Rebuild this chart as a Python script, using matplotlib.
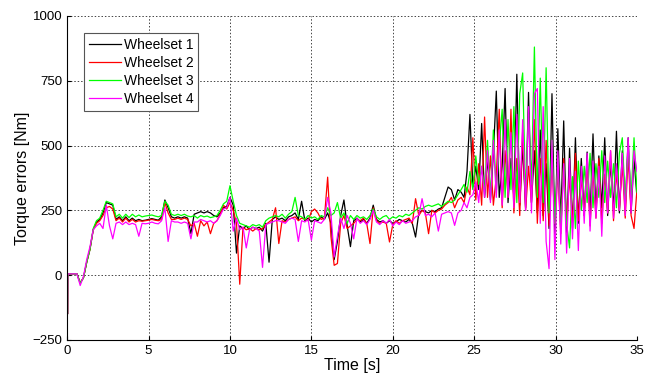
import numpy as np
import matplotlib
matplotlib.use('Agg')
import matplotlib.pyplot as plt

#Time base: start transient, 0.2 s steps to 24 s, then 0.18 s steps to 35 s
timeStart = [0.0, 0.02, 0.04]
timeSlow = np.round(np.arange(0.2, 24.01, 0.2), 2)
timeFast = np.round(np.arange(24.2, 35.001, 0.18), 2)
time_s = np.concatenate([timeStart, timeSlow, timeFast])

#Wheelset 1 (black)
wheelset1 = [170, -150, 5,
    5, 5, 5, -30, -10, 50, 100, 175, 205, 215,
    240, 280, 275, 270, 215, 225, 210, 225, 210, 220,
    210, 215, 210, 212, 215, 218, 215, 212, 225, 290,
    260, 225, 220, 225, 220, 225, 220, 160, 235, 240,
    245, 240, 245, 240, 230, 225, 240, 260, 265, 300,
    270, 85, 190, 180, 190, 175, 185, 180, 185, 170,
    200, 50, 215, 225, 215, 220, 210, 225, 230, 240,
    215, 285, 210, 220, 205, 215, 210, 225, 215, 240,
    200, 60, 130, 230, 290, 190, 110, 210, 220, 205,
    215, 200, 220, 270, 215, 205, 210, 200, 210, 200,
    205, 215, 210, 205, 215, 200, 147, 240, 250, 245,
    240, 250, 245, 255, 260, 300, 340, 330, 290, 330,
    320, 300, 400, 620, 340, 420, 330, 585, 300, 450,
    290, 470, 710, 300, 420, 720, 280, 450, 300, 775,
    270, 500, 260, 705, 280, 480, 240, 560, 230, 430,
    180, 700, 150, 565, 200, 595, 150, 490, 180, 530,
    200, 450, 230, 475, 220, 545, 240, 460, 260, 530,
    230, 440, 250, 555, 240, 480, 260, 530, 240, 450,
    300]

#Wheelset 2 (red)
wheelset2 = [170, -150, 5,
    5, 5, 5, -30, -10, 50, 100, 175, 200, 210,
    230, 260, 265, 255, 210, 220, 205, 220, 205, 215,
    205, 210, 208, 210, 212, 215, 212, 210, 215, 280,
    240, 215, 215, 220, 215, 220, 215, 190, 200, 150,
    210, 190, 205, 160, 200, 210, 235, 270, 255, 280,
    250, 200, -35, 185, 175, 180, 170, 180, 175, 180,
    195, 205, 215, 260, 122, 210, 205, 215, 220, 225,
    210, 220, 215, 210, 245, 255, 240, 215, 220, 378,
    150, 38, 45, 200, 230, 180, 190, 200, 215, 210,
    220, 200, 122, 260, 210, 200, 205, 200, 128, 195,
    210, 200, 210, 215, 220, 200, 295, 230, 250, 240,
    160, 250, 240, 250, 255, 270, 280, 300, 260, 290,
    300, 280, 340, 310, 530, 290, 430, 270, 610, 300,
    460, 270, 380, 640, 260, 480, 300, 640, 240, 450,
    230, 560, 250, 420, 280, 600, 200, 450, 210, 520,
    190, 430, 200, 400, 160, 450, 190, 380, 200, 470,
    210, 380, 230, 440, 190, 400, 220, 450, 200, 390,
    240, 480, 210, 400, 250, 430, 220, 460, 230, 180,
    330]

#Wheelset 3 (green)
wheelset3 = [170, -150, 5,
    5, 5, 5, -30, -10, 50, 100, 180, 210, 220,
    250, 285, 280, 275, 225, 235, 220, 235, 222, 235,
    225, 232, 225, 228, 230, 232, 228, 225, 230, 285,
    270, 235, 230, 235, 230, 235, 228, 225, 230, 220,
    230, 225, 228, 222, 225, 230, 250, 275, 285, 345,
    285, 230, 200, 195, 190, 185, 195, 190, 195, 185,
    210, 220, 225, 230, 225, 235, 220, 235, 245, 300,
    230, 225, 215, 230, 220, 225, 215, 230, 225, 260,
    230, 240, 280, 220, 240, 200, 230, 215, 230, 220,
    225, 215, 230, 255, 225, 215, 225, 230, 215, 225,
    220, 230, 225, 235, 230, 240, 250, 260, 255, 265,
    270, 265, 270, 275, 265, 275, 285, 280, 290, 310,
    330, 350, 320, 400, 330, 460, 350, 420, 320, 520,
    300, 560, 320, 500, 640, 300, 600, 330, 650, 280,
    700, 780, 300, 620, 350, 880, 300, 760, 280, 800,
    240, 520, 200, 450, 180, 420, 200, 105, 380, 180,
    440, 250, 420, 280, 470, 260, 430, 300, 480, 280,
    440, 300, 430, 260, 470, 530, 280, 500, 300, 530,
    320]

#Wheelset 4 (magenta)
wheelset4 = [170, -150, 5,
    5, 5, 5, -40, -5, 60, 110, 175, 190, 200,
    180, 270, 190, 140, 200, 205, 195, 205, 195, 200,
    195, 150, 200, 198, 200, 205, 200, 198, 210, 260,
    130, 210, 205, 205, 200, 205, 200, 140, 205, 205,
    215, 210, 205, 210, 200, 210, 230, 255, 260, 300,
    170, 220, 175, 185, 105, 175, 185, 180, 170, 30,
    195, 200, 205, 210, 210, 205, 200, 215, 220, 215,
    130, 210, 205, 215, 135, 210, 205, 200, 215, 300,
    240, 70, 150, 220, 180, 230, 200, 140, 220, 200,
    210, 195, 215, 250, 205, 195, 210, 200, 215, 190,
    205, 195, 210, 200, 205, 210, 225, 230, 295, 230,
    235, 225, 240, 170, 235, 240, 245, 240, 192, 240,
    250, 280, 260, 300, 310, 360, 280, 420, 300, 480,
    280, 520, 300, 560, 270, 600, 300, 550, 260, 620,
    280, 600, 250, 650, 240, 700, 720, 200, 650, 130,
    25, 520, 60, 480, 120, 430, 85, 450, 140, 400,
    95, 420, 200, 470, 170, 440, 220, 420, 150, 460,
    240, 480, 220, 430, 250, 470, 230, 530, 240, 480,
    400]

seriesNames = ['Wheelset 1', 'Wheelset 2', 'Wheelset 3', 'Wheelset 4']
seriesColors = ['#000000', '#ff0000', '#00ff00', '#ff00ff']

plt.rcParams['font.family'] = ['Liberation Sans', 'DejaVu Sans']

fig = plt.figure(figsize=(6.46, 3.79), dpi=100)
ax = fig.add_axes([0.104, 0.103, 0.882, 0.855])

for data, name, color in zip([wheelset1, wheelset2, wheelset3, wheelset4],
                             seriesNames, seriesColors):
    ax.plot(time_s, data, color=color, linewidth=0.9, label=name)

ax.set_xlim(0, 35)
ax.set_ylim(-250, 1000)
ax.set_xticks(np.arange(0, 36, 5))
ax.set_yticks(np.arange(-250, 1001, 250))
ax.grid(True, linestyle=(0, (1.5, 2)), color='#444444', linewidth=0.7)
ax.spines['top'].set_visible(False)
ax.spines['right'].set_visible(False)
ax.tick_params(direction='in', length=3, labelsize=9.5)
ax.set_xlabel('Time [s]', fontsize=11.5, labelpad=1)
ax.set_ylabel('Torque errors [Nm]', fontsize=11.5, labelpad=2)

leg = ax.legend(loc='upper left', bbox_to_anchor=(0.03, 0.948), fontsize=10,
                fancybox=False, framealpha=1, edgecolor='#555555',
                handlelength=2.3, handletextpad=0.2, labelspacing=0.3,
                borderpad=0.35, borderaxespad=0)
leg.get_frame().set_linewidth(0.8)

fig.savefig('out.png', dpi=100)
